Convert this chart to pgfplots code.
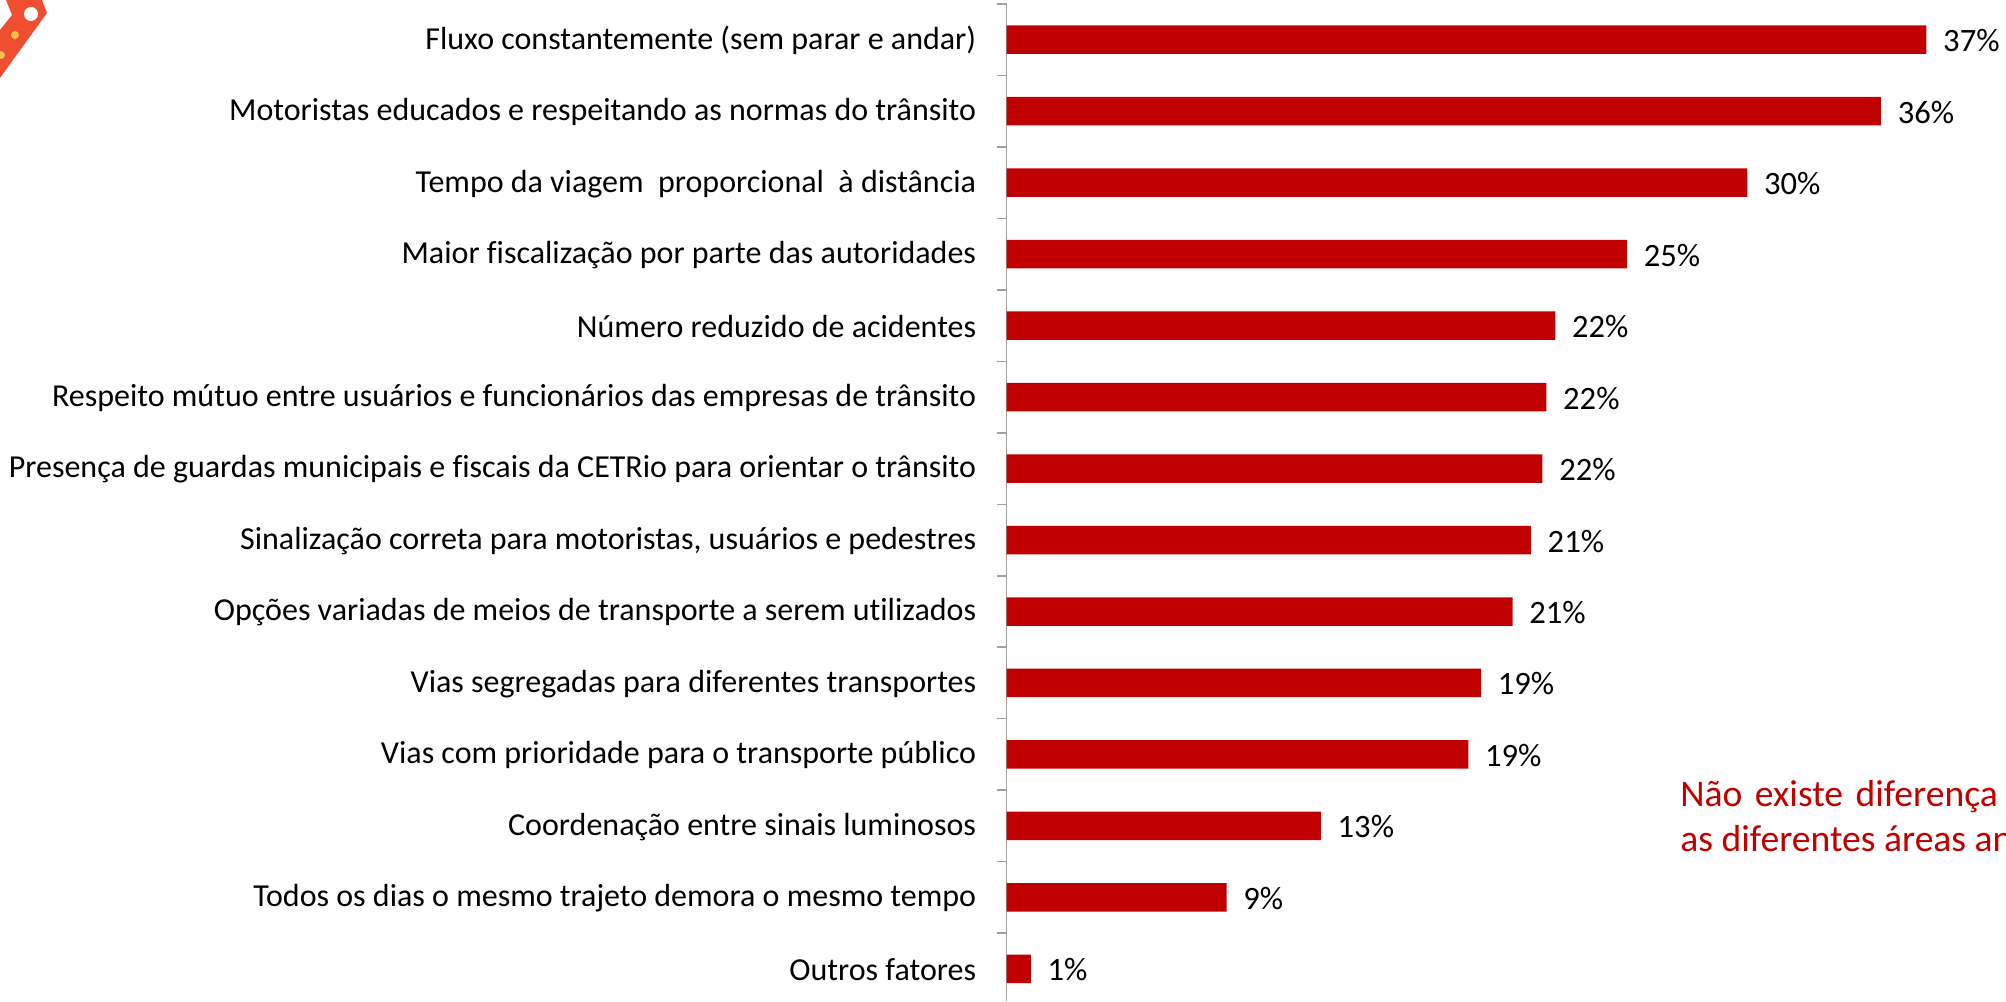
\documentclass[border=0pt]{standalone}
\usepackage{pgfplots}
\pgfplotsset{compat=1.18}
\usepackage{fontspec}
\setmainfont[Ligatures=NoCommon]{Carlito}
\definecolor{barred}{HTML}{C00000}
\definecolor{axgray}{HTML}{A0A0A0}
\definecolor{logored}{HTML}{F04E30}
\definecolor{logodot}{HTML}{FFC04D}
\begin{document}
\begin{tikzpicture}[x=1pt,y=1pt]
\useasboundingbox (0,0) rectangle (1003,500.5);
% logo fragment, corner of the slide (px/2 coordinates)
\fill[logored] (3,500.5) -- (21,500.5) -- (23.5,494) -- (0,461.5) -- (0,485.5) -- (6,493) -- cycle;
\fill[white] (15.5,493.5) circle (3.5);
\fill[logodot] (7.5,483) circle (2);
\fill[logodot] (0.5,473) circle (2);
\begin{axis}[
  at={(503.25pt,0pt)}, anchor=south west,
  scale only axis, width=499.75pt, height=498.5pt,
  xbar, bar width=14.25pt, bar shift=0pt,
  xmin=0, xmax=40.69,
  y dir=reverse, ymin=-0.5, ymax=13.45,
  axis x line=none, axis y line*=left,
  axis line style={axgray,line width=0.75pt},
  ytick={0,...,13},
  yticklabels={
    Fluxo constantemente (sem parar e andar),
    Motoristas educados e respeitando as normas do trânsito,
    Tempo da viagem\ \ proporcional\ \ à distância,
    Maior fiscalização por parte das autoridades,
    Número reduzido de acidentes,
    Respeito mútuo entre usuários e funcionários das empresas de trânsito,
    Presença de guardas municipais e fiscais da CETRio para orientar o trânsito,
    {Sinalização correta para motoristas, usuários e pedestres},
    Opções variadas de meios de transporte a serem utilizados,
    Vias segregadas para diferentes transportes,
    Vias com prioridade para o transporte público,
    Coordenação entre sinais luminosos,
    Todos os dias o mesmo trajeto demora o mesmo tempo,
    Outros fatores},
  minor ytick={-0.5,0.5,...,12.5},
  tick align=outside,
  major tick length=0pt, minor tick length=5pt,
  minor tick style={axgray,line width=0.75pt},
  major tick style={draw=none},
  yticklabel style={font=\fontsize{16}{19}\selectfont, text=black, inner sep=0pt, xshift=-15pt, yshift=-0.5pt},
  clip=false,
  point meta=x,
  nodes near coords={\pgfmathprintnumber[fixed,precision=0,assume math mode=true]{\pgfplotspointmeta}\%},
  every node near coord/.append style={font=\fontsize{16.3}{19}\selectfont, text=black, inner sep=0pt, xshift=8.2pt, yshift=-0.5pt},
]
\addplot[fill=barred,draw=none] coordinates {
 (37.45,0) (35.6,1) (30.16,2) (25.26,3) (22.34,4) (21.98,5) (21.82,6)
 (21.35,7) (20.6,8) (19.32,9) (18.8,10) (12.8,11) (8.96,12) (0.99,13)};
\end{axis}
\node[anchor=base west,inner sep=0pt,text=barred,font=\fontsize{18.8}{22}\selectfont] at (840,97) {Não\hspace{0.33em}existe\hspace{0.33em}diferença};
\node[anchor=base west,inner sep=0pt,text=barred,font=\fontsize{18.8}{22}\selectfont] at (840,74.5) {as diferentes áreas an};
\end{tikzpicture}
\end{document}
